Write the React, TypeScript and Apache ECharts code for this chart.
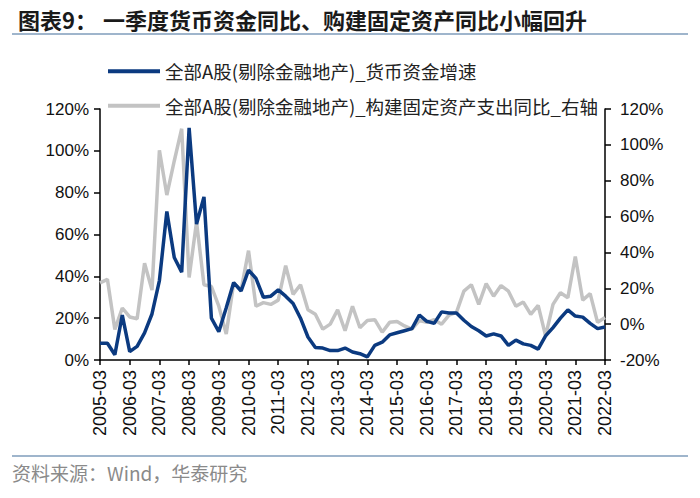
import React, { useEffect, useRef } from "react";
import * as echarts from "echarts";

const years = ["2005","2006","2007","2008","2009","2010","2011","2012","2013","2014","2015","2016","2017","2018","2019","2020","2021","2022"];
const quarters = ["03", "06", "09", "12"];
const categories: string[] = [];
years.forEach((y) => quarters.forEach((q) => categories.push(`${y}-${q}`)));
categories.splice(69);

const cashGrowth = [
  8, 8, 2.5, 21.5, 4, 6.5, 13, 22, 38, 71, 49, 42,
  111, 65, 78, 20, 13.5, 25, 37, 33, 43, 39, 30, 30.5,
  33.5, 30.5, 27, 20, 11, 6, 5.7, 4.5, 4.5, 5.7, 3.8, 3,
  1.5, 7, 8.5, 12, 13, 14, 15, 21.5, 18.5, 17.5, 23, 22.5,
  22.5, 19, 16, 14, 11.5, 12.5, 11.5, 7, 9.5, 7.7, 7, 5.2,
  11.5, 15.5, 20, 24, 21, 20.5, 17.5, 15, 15.8,
];

const capexGrowth = [
  23, 25, -3, 9, 4, 3, 34, 19, 97, 72, 91, 109,
  26, 57, 22, 21, 10, -5.5, 23, 19, 41, 10, 12, 11,
  13.4, 32.6, 16.6, 22, 8, 5.5, -2.8, 0, 8, -3.7, 10, -2,
  2, 2.5, -4.5, 1, 1.5, -1, -2.8, 2, 1, 2.5, 0, 5,
  6.6, 18.4, 22, 11, 22.6, 15.6, 21.5, 18.4, 10, 12.3, 5.5, 10.5,
  -6.5, 11, 17.5, 14.7, 37.7, 13.4, 17, 1, 3.7,
];

const seriesNames = [
  "全部A股(剔除金融地产)_货币资金增速",
  "全部A股(剔除金融地产)_构建固定资产支出同比_右轴",
];
const titleLead = "图表9：";
const titleText = "一季度货币资金同比、购建固定资产同比小幅回升";
const sourceText = "资料来源：Wind，华泰研究";

const CJK = '"Noto Sans CJK SC", "Noto Sans", sans-serif';
const NUM = '"Liberation Sans", Arial, sans-serif';

export default function App() {
  const ref = useRef<HTMLDivElement>(null);
  useEffect(() => {
    document.body.style.margin = "0";
    if (!ref.current) return;
    const chart = echarts.init(ref.current, undefined, { renderer: "svg" });
    chart.setOption({
      animation: false,
      backgroundColor: "#ffffff",
      grid: { left: 100, right: 95, top: 109, bottom: 138, containLabel: false },
      legend: {
        orient: "vertical",
        left: 103,
        top: 57,
        itemWidth: 52,
        itemHeight: 4,
        itemGap: 16,
        icon: "rect",
        textStyle: { fontSize: 18.5, color: "#222", fontFamily: CJK },
        data: seriesNames,
      },
      graphic: [
        { type: "text", left: 18, top: 8, style: { text: titleLead, fontSize: 22, fontWeight: "bold", fill: "#1a1a1a", fontFamily: CJK } },
        { type: "text", left: 103, top: 8, style: { text: titleText, fontSize: 22, fontWeight: "bold", fill: "#1a1a1a", fontFamily: CJK } },
        { type: "line", shape: { x1: 12, y1: 34, x2: 688, y2: 34 }, style: { stroke: "#7f9cbb", lineWidth: 1.5 } },
        { type: "line", shape: { x1: 12, y1: 456, x2: 688, y2: 456 }, style: { stroke: "#7f9cbb", lineWidth: 1.5 } },
        { type: "text", left: 12, top: 463, style: { text: sourceText, fontSize: 19, fill: "#8a8a8a", fontFamily: CJK } },
      ],
      xAxis: {
        type: "category",
        data: categories,
        boundaryGap: false,
        axisLine: { lineStyle: { color: "#000", width: 1.5 } },
        axisTick: { interval: 3, length: 5, lineStyle: { color: "#000", width: 1.5 } },
        axisLabel: { interval: 3, rotate: 90, fontSize: 18, color: "#111", fontFamily: NUM, margin: 10 },
      },
      yAxis: [
        {
          type: "value",
          min: 0,
          max: 120,
          interval: 20,
          splitLine: { show: false },
          axisLine: { show: true, lineStyle: { color: "#000", width: 1.5 } },
          axisTick: { show: true, length: 6, lineStyle: { color: "#000", width: 1.5 } },
          axisLabel: { formatter: "{value}%", fontSize: 17, color: "#111", fontFamily: NUM, margin: 11 },
        },
        {
          type: "value",
          min: -20,
          max: 120,
          interval: 20,
          splitLine: { show: false },
          axisLine: { show: true, lineStyle: { color: "#000", width: 1.5 } },
          axisTick: { show: true, length: 6, lineStyle: { color: "#000", width: 1.5 } },
          axisLabel: { formatter: "{value}%", fontSize: 17, color: "#111", fontFamily: NUM, margin: 15 },
        },
      ],
      series: [
        {
          name: seriesNames[1],
          type: "line",
          yAxisIndex: 1,
          data: capexGrowth,
          symbol: "none",
          lineStyle: { color: "#c3c3c3", width: 3.5 },
          itemStyle: { color: "#c3c3c3" },
          z: 2,
        },
        {
          name: seriesNames[0],
          type: "line",
          yAxisIndex: 0,
          data: cashGrowth,
          symbol: "none",
          lineStyle: { color: "#0b3a80", width: 3.5 },
          itemStyle: { color: "#0b3a80" },
          z: 3,
        },
      ],
    });
    return () => chart.dispose();
  }, []);
  return <div ref={ref} style={{ width: 700, height: 498 }} />;
}
